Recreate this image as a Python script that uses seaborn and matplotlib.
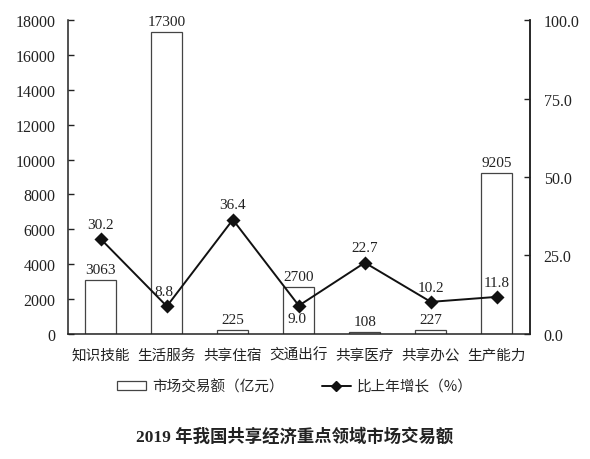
import matplotlib
matplotlib.use("Agg")
import matplotlib.pyplot as plt
import seaborn as sns
import pandas as pd
import numpy as np
from matplotlib.lines import Line2D
from matplotlib.patches import Patch

categories = ["知识技能", "生活服务", "共享住宿", "交通出行", "共享医疗", "共享办公", "生产能力"]
volume = [3063, 17300, 225, 2700, 108, 227, 9205]
growth = [30.2, 8.8, 36.4, 9.0, 22.7, 10.2, 11.8]
volume_labels = ["3063", "17300", "225", "2700", "108", "227", "9205"]
growth_labels = ["30.2", "8.8", "36.4", "9.0", "22.7", "10.2", "11.8"]
left_ticks = [0, 2000, 4000, 6000, 8000, 10000, 12000, 14000, 16000, 18000]
right_ticks = [0, 25, 50, 75, 100]
legend_labels = ["市场交易额（亿元）", "比上年增长（%）"]
title = "2019 年我国共享经济重点领域市场交易额"

sns.set_theme(style="white")
plt.rcParams["font.family"] = ["Noto Sans CJK SC", "DejaVu Sans"]

df = pd.DataFrame({"cat": categories, "vol": volume, "gr": growth})

fig = plt.figure(figsize=(5.9, 4.6), dpi=100)
ax = fig.add_axes([0.115, 0.272, 0.783, 0.682])

sns.barplot(data=df, x="cat", y="vol", ax=ax, color="white", edgecolor="#444444",
            linewidth=0.9, width=0.47, saturation=1)
ax.set_ylim(0, 18000)
ax.set_xlim(-0.5, 6.5)
ax.set_yticks(left_ticks)
ax.set_yticklabels([str(t) for t in left_ticks], family="Liberation Serif", fontsize=11.5)
ax.set_xlabel("")
ax.set_ylabel("")
ax.set_xticks(np.arange(len(categories)))
ax.set_xticklabels(categories, fontsize=10.5, color="#222222")
ax.tick_params(axis="x", length=0, pad=10)
ax.tick_params(axis="y", direction="in", length=4, width=1, color="#222222", pad=9, colors="#222222")
ax.set_xticks(np.arange(0.5, 6.5, 1), minor=True)
ax.tick_params(axis="x", which="minor", direction="in", length=4, width=1, color="#222222")
ax.spines["top"].set_visible(False)
for s in ["left", "bottom", "right"]:
    ax.spines[s].set_color("#222222")
    ax.spines[s].set_linewidth(1.1)

for i, (v, lab) in enumerate(zip(volume, volume_labels)):
    ax.annotate(lab, (i, v), xytext=(0, 3), textcoords="offset points",
                ha="center", va="bottom", family="Liberation Serif", fontsize=11, color="#222222")

ax2 = ax.twinx()
sns.pointplot(data=df, x="cat", y="gr", ax=ax2, color="#111111", markers="D",
              linestyles="-", linewidth=1.4, markersize=6)
ax2.set_xlim(-0.5, 6.5)
ax2.set_ylim(0, 100)
ax2.set_yticks(right_ticks)
ax2.set_yticklabels([f"{t:.1f}" for t in right_ticks], family="Liberation Serif", fontsize=11.5)
ax2.tick_params(axis="y", direction="in", length=4, width=1, color="#222222", pad=10, colors="#222222")
ax2.set_ylabel("")
ax2.set_xlabel("")
ax2.spines["top"].set_visible(False)
ax2.spines["right"].set_color("#222222")
ax2.spines["right"].set_linewidth(1.1)
ax2.spines["left"].set_visible(False)
ax2.spines["bottom"].set_visible(False)

offsets = [(0, 6), (-2, 6), (0, 6), (-1, -14), (0, 6), (0, 6), (0, 6)]
for i, (g, lab) in enumerate(zip(growth, growth_labels)):
    dx, dy = offsets[i]
    ax2.annotate(lab, (i, g), xytext=(dx, dy), textcoords="offset points",
                 ha="center", va="bottom", family="Liberation Serif", fontsize=11, color="#222222")

handles = [Patch(facecolor="white", edgecolor="#444444", linewidth=0.9),
           Line2D([0], [0], color="#111111", lw=1.4, marker="D", markersize=5)]
fig.legend(handles, legend_labels, loc="center", bbox_to_anchor=(0.5, 0.158), ncol=2,
           frameon=False, fontsize=10.5, handlelength=2.0, columnspacing=2.6, handletextpad=0.4,
           handleheight=0.6)

fig.text(0.5, 0.05, title, ha="center", va="center", fontsize=12.5, fontweight="bold",
         family=["Liberation Serif", "Noto Sans CJK SC"], color="#222222")

fig.savefig("out.png", dpi=100)
